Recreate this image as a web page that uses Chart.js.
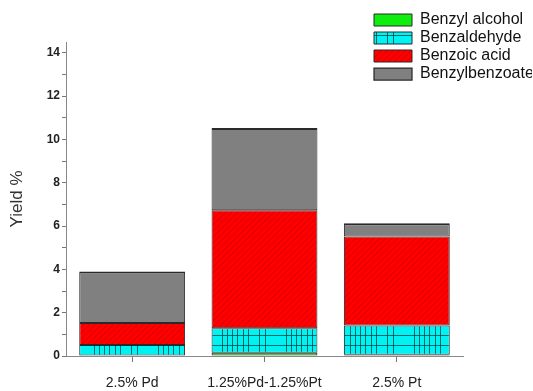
<!DOCTYPE html>
<html>
<head>
<meta charset="utf-8">
<script src="https://cdn.jsdelivr.net/npm/chart.js@4"></script>
<style>
  html, body { margin: 0; padding: 0; background: #fff; }
  #wrap { width: 533px; height: 391px; }
</style>
</head>
<body>
<div id="wrap"><canvas id="c" width="533" height="391"></canvas></div>
<script>
// Catalysts on the x axis
const catalysts = ['2.5% Pd', '1.25%Pd-1.25%Pt', '2.5% Pt'];
// Product names, bottom to top of each stack
const seriesNames = ['Benzyl alcohol', 'Benzaldehyde', 'Benzoic acid', 'Benzylbenzoate'];
// Yield (%) of each product per catalyst
const benzylAlcohol  = [0.00, 0.15, 0.06];
const benzaldehyde   = [0.51, 1.13, 1.35];
const benzoicAcid    = [1.01, 5.45, 4.11];
const benzylbenzoate = [2.38, 3.80, 0.61];
// Labelled y ticks
const yTickLabels = [0, 2, 4, 6, 8, 10, 12, 14];

const FONT = 'Arial, "Liberation Sans", sans-serif';

// Fill patterns for the stacked segments
function makeTile(w, h, paint) {
  const cv = document.createElement('canvas');
  cv.width = w; cv.height = h;
  const g = cv.getContext('2d');
  paint(g, w, h);
  return g.createPattern(cv, 'repeat');
}
const cyanFill = makeTile(64, 10, (g, w, h) => {
  g.fillStyle = '#00f2f2';
  g.fillRect(0, 0, w, h);
  g.fillStyle = 'rgba(0,60,60,0.75)';
  g.fillRect(0, 5, w, 1);
  [3, 9, 30, 35, 40, 45, 51, 56].forEach(x => g.fillRect(x, 0, 1, h));
});
const redFill = makeTile(6, 6, (g, w, h) => {
  g.fillStyle = '#ff0000';
  g.fillRect(0, 0, w, h);
  g.strokeStyle = 'rgba(140,0,0,0.45)';
  g.lineWidth = 0.8;
  g.beginPath();
  g.moveTo(-1, h + 1); g.lineTo(w + 1, -1);
  g.moveTo(-1, 1); g.lineTo(1, -1);
  g.moveTo(w - 1, h + 1); g.lineTo(w + 1, h - 1);
  g.stroke();
});
const greenFill = '#10ee10';
const grayFill = '#808080';

const fills = [greenFill, cyanFill, redFill, grayFill];
const values = [benzylAlcohol, benzaldehyde, benzoicAcid, benzylbenzoate];

const datasets = seriesNames.map((name, i) => ({
  label: name,
  data: values[i],
  backgroundColor: fills[i],
  borderColor: '#2a2a2a',
  borderWidth: i === 3 ? { top: 2, left: 1, right: 1, bottom: 1 } : 1,
  borderSkipped: false,
  barPercentage: 0.8,
  categoryPercentage: 1.0
}));

// Places the legend in the upper right corner, over the plot area
const legendSpot = {
  id: 'legendSpot',
  afterLayout(chart) {
    const lg = chart.legend;
    if (!lg) return;
    const w = 160, h = 100;
    lg.left = 372; lg.top = 10;
    lg.width = w; lg.height = h;
    lg.right = lg.left + w; lg.bottom = lg.top + h;
  }
};

new Chart(document.getElementById('c'), {
  type: 'bar',
  data: { labels: catalysts, datasets },
  plugins: [legendSpot],
  options: {
    responsive: false,
    animation: false,
    layout: { padding: { top: 42, right: 69, bottom: 0, left: 0 } },
    plugins: {
      tooltip: { enabled: false },
      legend: {
        position: 'right',
        align: 'start',
        maxWidth: 1,
        labels: {
          boxWidth: 38,
          boxHeight: 12,
          padding: 2,
          color: '#111',
          font: { family: FONT, size: 16 }
        }
      }
    },
    scales: {
      x: {
        stacked: true,
        grid: { display: true, drawOnChartArea: false, drawTicks: true, offset: false, tickLength: 6, color: '#777' },
        border: { display: true, color: '#888', width: 1 },
        ticks: { color: '#222', padding: 13, font: { family: FONT, size: 14 } },
        afterFit(scale) { scale.height = 35; }
      },
      y: {
        stacked: true,
        min: 0,
        max: 14.5,
        grid: { display: true, drawOnChartArea: false, drawTicks: true, tickLength: 4, color: '#777' },
        border: { display: true, color: '#888', width: 1 },
        ticks: {
          stepSize: 1,
          includeBounds: false,
          padding: 2,
          color: '#222',
          font: { family: FONT, size: 12, weight: 'bold' },
          callback: (v) => (yTickLabels.includes(v) ? String(v) : '')
        },
        title: {
          display: true,
          text: 'Yield %',
          color: '#333',
          padding: { top: 7, bottom: 0 },
          font: { family: FONT, size: 17 }
        },
        afterFit(scale) { scale.width = 66; }
      }
    }
  }
});
</script>
</body>
</html>
